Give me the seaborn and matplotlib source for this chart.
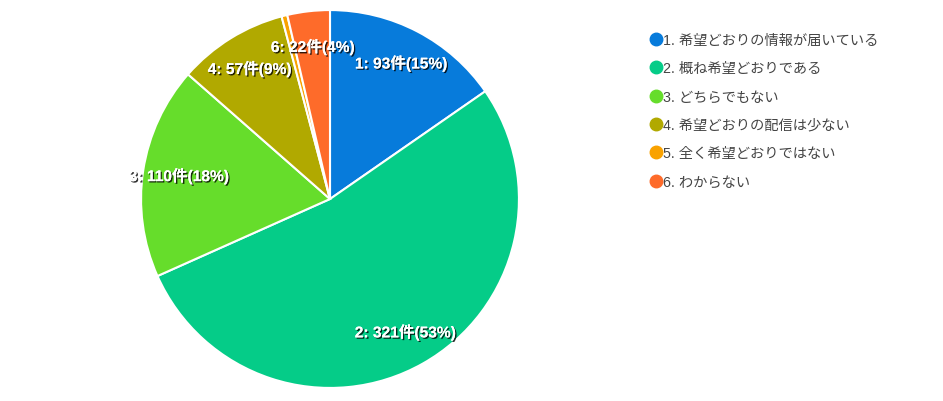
import matplotlib
matplotlib.use('Agg')
import matplotlib.pyplot as plt
import matplotlib.patheffects as pe
from matplotlib.lines import Line2D
import seaborn as sns

labels = ['1. 希望どおりの情報が届いている', '2. 概ね希望どおりである', '3. どちらでもない',
          '4. 希望どおりの配信は少ない', '5. 全く希望どおりではない', '6. わからない']
counts = [93, 321, 110, 57, 3, 22]
colors = ['#077BDB', '#05CC88', '#66DD2B', '#B1A900', '#F9A200', '#FE6B2A']

sns.set_theme(style='white')
plt.rcParams['font.family'] = ['Liberation Sans', 'Noto Sans CJK JP']

fig = plt.figure(figsize=(9.43, 4.02), dpi=100)
ax = fig.add_axes([142 / 943, 14 / 402, 376 / 943, 376 / 402])

total = sum(counts)


def fmt(pct):
    n = int(round(pct * total / 100))
    if n / total < 0.02:
        return ''
    i = counts.index(n) + 1
    return f'{i}: {n}件({n / total * 100:.0f}%)'


wedges, texts, autotexts = ax.pie(counts, colors=colors, startangle=90, counterclock=False,
                                  autopct=fmt, pctdistance=0.81,
                                  wedgeprops=dict(edgecolor='white', linewidth=1.5))
for t in autotexts:
    t.set_color('white')
    t.set_fontweight('bold')
    t.set_fontsize(11.2)
    t.set_path_effects([pe.withSimplePatchShadow(offset=(1, -1), shadow_rgbFace='black', alpha=0.8),
                        pe.Normal()])
ax.set_xlim(-0.995, 0.995)
ax.set_ylim(-0.995, 0.995)
ax.set_aspect('equal')

handles = [Line2D([], [], marker='o', linestyle='', markersize=9, color=c) for c in colors]
leg = fig.legend(handles, labels, loc='upper left', bbox_to_anchor=(652 / 943, 1 - 34 / 402),
                 frameon=False, fontsize=10.3, handlelength=0.6, handletextpad=0.15,
                 labelspacing=1.0, borderaxespad=0, borderpad=0)
for t in leg.get_texts():
    t.set_color('#444444')

fig.savefig('out.png', dpi=100)
